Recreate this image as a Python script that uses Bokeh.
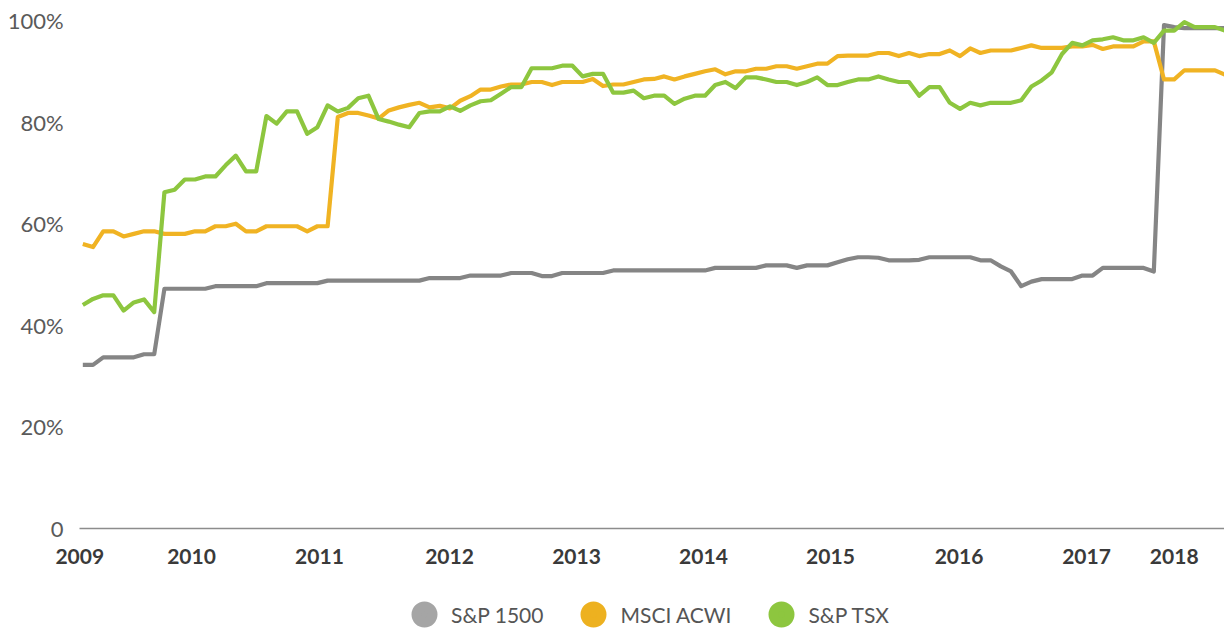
from bokeh.plotting import figure
from bokeh.models import (Range1d, FixedTicker, Legend, LegendItem, ColumnDataSource,
                          LinearAxis, Grid)
from bokeh.embed import file_html
from bokeh.resources import INLINE

# ---------------- data ----------------
month_index = list(range(113))

sp1500 = [32.2, 32.2, 33.7, 33.7, 33.7, 33.7, 34.3, 34.3, 47.2, 47.2,
          47.2, 47.2, 47.2, 47.7, 47.7, 47.7, 47.7, 47.7, 48.3, 48.3,
          48.3, 48.3, 48.3, 48.3, 48.8, 48.8, 48.8, 48.8, 48.8, 48.8,
          48.8, 48.8, 48.8, 48.8, 49.3, 49.3, 49.3, 49.3, 49.8, 49.8,
          49.8, 49.8, 50.3, 50.3, 50.3, 49.7, 49.7, 50.3, 50.3, 50.3,
          50.3, 50.3, 50.8, 50.8, 50.8, 50.8, 50.8, 50.8, 50.8, 50.8,
          50.8, 50.8, 51.3, 51.3, 51.3, 51.3, 51.3, 51.8, 51.8, 51.8,
          51.3, 51.8, 51.8, 51.8, 52.4, 53.0, 53.4, 53.4, 53.3, 52.8,
          52.8, 52.8, 52.9, 53.4, 53.4, 53.4, 53.4, 53.4, 52.8, 52.8,
          51.6, 50.6, 47.7, 48.6, 49.1, 49.1, 49.1, 49.1, 49.8, 49.8,
          51.3, 51.3, 51.3, 51.3, 51.3, 50.6, 99.1, 98.7, 98.5, 98.5,
          98.5, 98.5, 98.5]

msci_acwi = [56.0, 55.4, 58.5, 58.5, 57.5, 58.0, 58.5, 58.5, 58.0, 58.0,
             58.0, 58.5, 58.5, 59.5, 59.5, 60.0, 58.5, 58.5, 59.5, 59.5,
             59.5, 59.5, 58.5, 59.5, 59.5, 81.0, 81.8, 81.8, 81.3, 80.7,
             82.3, 82.9, 83.4, 83.8, 82.9, 83.2, 82.7, 84.2, 85.1, 86.4,
             86.4, 87.0, 87.4, 87.4, 87.9, 87.9, 87.3, 87.9, 87.9, 87.9,
             88.5, 87.1, 87.4, 87.4, 87.9, 88.4, 88.5, 89.0, 88.4, 89.0,
             89.5, 90.0, 90.4, 89.4, 90.0, 90.0, 90.5, 90.5, 91.0, 91.0,
             90.5, 91.0, 91.5, 91.5, 93.0, 93.1, 93.1, 93.1, 93.6, 93.6,
             93.0, 93.6, 93.0, 93.4, 93.4, 94.1, 93.0, 94.5, 93.6, 94.1,
             94.1, 94.1, 94.6, 95.1, 94.6, 94.6, 94.6, 94.9, 94.9, 95.2,
             94.4, 94.9, 94.9, 94.9, 95.9, 95.9, 88.4, 88.4, 90.2, 90.2,
             90.2, 90.2, 89.3]

sp_tsx = [44.0, 45.2, 45.9, 45.9, 42.9, 44.5, 45.1, 42.6, 66.2, 66.7,
          68.7, 68.7, 69.3, 69.3, 71.5, 73.4, 70.3, 70.3, 81.2, 79.7,
          82.1, 82.1, 77.7, 79.0, 83.3, 82.1, 82.8, 84.7, 85.2, 80.6,
          80.1, 79.5, 79.0, 81.8, 82.1, 82.1, 83.1, 82.2, 83.3, 84.1,
          84.3, 85.6, 86.9, 86.9, 90.6, 90.6, 90.6, 91.1, 91.1, 89.0,
          89.5, 89.5, 85.8, 85.8, 86.2, 84.7, 85.2, 85.2, 83.6, 84.6,
          85.2, 85.2, 87.3, 87.9, 86.7, 88.8, 88.8, 88.4, 87.9, 87.9,
          87.3, 87.9, 88.8, 87.3, 87.3, 87.9, 88.4, 88.4, 89.0, 88.4,
          87.9, 87.9, 85.2, 86.9, 86.9, 83.8, 82.6, 83.8, 83.3, 83.8,
          83.8, 83.8, 84.3, 87.0, 88.2, 89.8, 93.4, 95.6, 95.1, 96.1,
          96.3, 96.7, 96.1, 96.1, 96.7, 95.6, 98.0, 98.0, 99.7, 98.7,
          98.7, 98.7, 98.0]

series_names = ["S&P 1500", "MSCI ACWI", "S&P TSX"]
year_labels = ["2009", "2010", "2011", "2012", "2013", "2014",
               "2015", "2016", "2017", "2018"]
y_tick_values = [0, 20, 40, 60, 80, 100]
y_tick_labels = ["0", "20%", "40%", "60%", "80%", "100%"]

# ---------------- layout / style ----------------
year_tick_pos = [-0.3, 10.66, 23.2, 35.95, 48.4, 60.85, 73.3, 85.9, 98.4, 107.0]
X_START = -0.32      # where the axes begin (index units)
X_END = 111.93
line_colors = ["#858585", "#F0B323", "#8DC63F"]
dot_colors = ["#A5A5A5", "#EDB120", "#8DC63F"]
FONT = "Lato"

p = figure(width=1224, height=628, output_backend="svg", toolbar_location=None,
           x_range=Range1d(-8.07, X_END), y_range=Range1d(-19.68, 101.97),
           frame_width=1224, frame_height=618,
           min_border_left=0, min_border_right=0, min_border_top=10,
           min_border_bottom=0, x_axis_location=None, y_axis_location=None)
p.outline_line_color = None
for r in list(p.center):
    if isinstance(r, Grid):
        r.visible = False
p.background_fill_color = "white"
p.border_fill_color = "white"

for ys, c in zip([sp1500, msci_acwi, sp_tsx], line_colors):
    p.line(month_index, ys, line_color=c, line_width=4.2, line_join="round")

# x axis, fixed at y = 0
xa = LinearAxis(fixed_location=0, bounds=(X_START, X_END))
p.add_layout(xa, "below")
xa.ticker = FixedTicker(ticks=year_tick_pos)
xa.major_label_overrides = {t: s for t, s in zip(year_tick_pos, year_labels)}
xa.axis_line_color = "#8C8C8C"
xa.axis_line_width = 1.5
xa.major_tick_line_color = None
xa.minor_tick_line_color = None
xa.major_label_standoff = 14
xa.major_label_text_font = FONT
xa.major_label_text_font_style = "bold"
xa.major_label_text_font_size = "21px"
xa.major_label_text_color = "#3A3A3A"

# y axis, fixed at the start of the series
ya = LinearAxis(fixed_location=X_START)
p.add_layout(ya, "left")
ya.ticker = FixedTicker(ticks=y_tick_values)
ya.major_label_overrides = {t: s for t, s in zip(y_tick_values, y_tick_labels)}
ya.axis_line_color = None
ya.major_tick_line_color = None
ya.minor_tick_line_color = None
ya.major_label_standoff = 10
ya.major_label_text_font = FONT
ya.major_label_text_font_size = "22px"
ya.major_label_text_color = "#5A5A5A"

# legend with round markers (proxy renderers hold no visible point)
items = []
for name, c in zip(series_names, dot_colors):
    src = ColumnDataSource(dict(x=[float("nan")], y=[float("nan")]))
    r = p.scatter("x", "y", source=src, marker="circle", fill_color=c,
                  line_color=c, line_width=10)
    items.append(LegendItem(label=name, renderers=[r]))

legend = Legend(items=items, orientation="horizontal", location=(404, -6),
                glyph_width=40, glyph_height=40, label_standoff=7, spacing=30,
                padding=0, margin=0, border_line_color=None,
                background_fill_alpha=0,
                label_text_font=FONT, label_text_font_size="21px",
                label_text_color="#555555")
p.add_layout(legend, "center")

open("out.html", "w").write(file_html(p, INLINE))
